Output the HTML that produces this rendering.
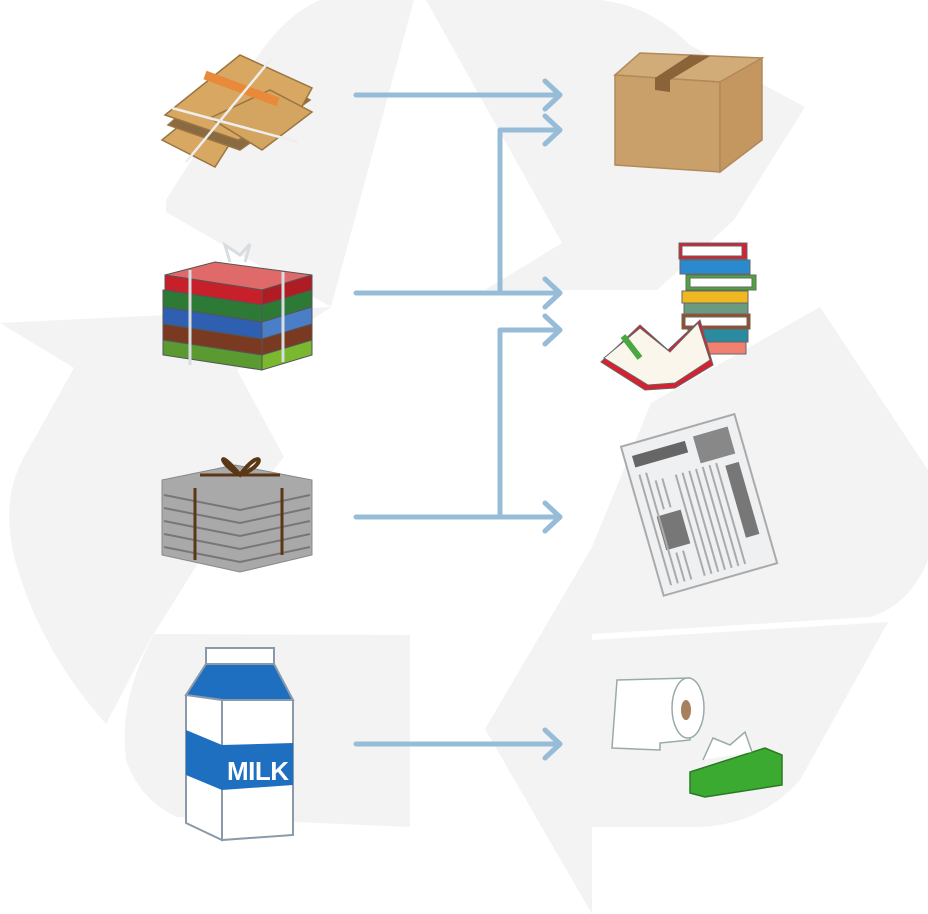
<!DOCTYPE html>
<html><head><meta charset="utf-8"><style>html,body{margin:0;padding:0;background:#fff}svg{display:block}</style></head>
<body>
<svg width="928" height="914" viewBox="0 0 928 914" xmlns="http://www.w3.org/2000/svg">
<g fill="#f3f3f3">
<path d="M166,212 L331,307 L414,0 L320,0 Q285,15 255,60 L166,200 Z"/>
<path d="M426,0 L600,0 Q650,5 690,45 L805,107 L734,220 L657,290 L485,290 L562,243 Z"/>
<path d="M0,323 L331,307 L237,370 L284,457 L200,560 L150,640 L106,724 Q40,650 15,560 Q0,500 24,457 L74,368 Z"/>
<path d="M154,634 L410,635 L410,827 L177,817 Q140,800 126,760 Q118,700 154,634 Z"/>
<path d="M820,307 L928,470 L928,560 Q910,605 870,617 L592,634 L592,547 L651,403 Z"/>
<path d="M592,547 L592,640 L888,622 L800,780 Q760,825 698,827 L592,827 L592,914 L485,729 Z"/>
</g>
<g stroke="#96bcd8" stroke-width="5" fill="none" stroke-linecap="round" stroke-linejoin="round">
<path d="M356 95H560M545 81L560 95L545 109"/>
<path d="M500 293V130H560M545 116L560 130L545 144"/>
<path d="M356 293H560M545 279L560 293L545 307"/>
<path d="M500 517V330H560M545 316L560 330L545 344"/>
<path d="M356 517H560M545 503L560 517L545 531"/>
<path d="M356 744H560M545 730L560 744L545 758"/>
</g>
<!-- cardboard bundle -->
<g stroke="#9a7540" stroke-width="1.5">
<polygon points="162,140 205,105 245,120 215,167" fill="#d8a863"/>
<polygon points="168,125 240,62 310,100 240,150" fill="#8a6a40"/>
<polygon points="165,115 240,55 312,88 300,110 238,140" fill="#d8a863"/>
<polygon points="210,118 270,90 312,112 262,150" fill="#d4a561"/>
<path d="M205,75 L278,102" stroke="#e88a3a" stroke-width="9"/>
<path d="M272,58 L186,162 M172,108 L298,142" stroke="#eee" stroke-width="2.5" fill="none"/>
</g>
<!-- magazines -->
<g stroke="#555" stroke-width="1">
<polygon points="165,275 215,262 312,275 262,290" fill="#e06a6a"/>
<polygon points="165,275 262,290 262,305 165,290" fill="#c8202a"/>
<polygon points="262,290 312,275 312,290 262,305" fill="#b01c24"/>
<polygon points="163,290 262,305 262,322 163,307" fill="#2d7a36"/><polygon points="262,305 312,290 312,307 262,322" fill="#2d7a36"/>
<polygon points="163,307 262,322 262,339 163,324" fill="#2f5fb0"/><polygon points="262,322 312,307 312,324 262,339" fill="#4a7fc8"/>
<polygon points="163,324 262,339 262,355 163,340" fill="#7a3a22"/><polygon points="262,339 312,324 312,340 262,355" fill="#7a3a22"/>
<polygon points="163,340 262,355 262,370 163,355" fill="#5a9a30"/><polygon points="262,355 312,340 312,355 262,370" fill="#7ab830"/>
<path d="M190,270 L190,365 M283,272 L283,362" stroke="#d8dde2" stroke-width="3" fill="none"/>
<path d="M230,262 L225,245 L240,255 L250,244 L245,262" stroke="#d8dde2" stroke-width="3" fill="none"/>
</g>
<!-- newspapers bundle -->
<g>
<polygon points="162,480 235,465 312,480 312,555 240,572 162,555" fill="#a9a9a9" stroke="#888"/>
<path d="M164,495 L240,510 L310,495 M164,508 L240,523 L310,508 M164,521 L240,536 L310,521 M164,534 L240,549 L310,534 M164,547 L240,562 L310,547" stroke="#777" stroke-width="2" fill="none"/>
<path d="M195,488 L195,560 M282,488 L282,555 M200,475 L280,475" stroke="#5a3815" stroke-width="3" fill="none"/>
<path d="M240,475 C215,445 220,465 240,475 C262,445 268,465 240,475" stroke="#5a3815" stroke-width="4" fill="none"/>
</g>
<!-- milk -->
<g stroke="#8a9aaa" stroke-width="2">
<rect x="206" y="648" width="68" height="16" fill="#fff"/>
<polygon points="186,695 206,664 274,664 293,700 222,700" fill="#1f6fc0"/>
<polygon points="186,695 222,700 222,840 186,823" fill="#fff"/>
<polygon points="222,700 293,700 293,835 222,840" fill="#fff"/>
<polygon points="186,730 222,745 222,790 186,775" fill="#1f6fc0" stroke="none"/>
<polygon points="222,745 293,743 293,785 222,790" fill="#1f6fc0" stroke="none"/>
<text x="227" y="780" font-family="Liberation Sans,sans-serif" font-weight="bold" font-size="26" fill="#fff" stroke="none" textLength="62">MILK</text>
</g>
<!-- box -->
<g stroke="#b08a5a" stroke-width="1.5">
<polygon points="615,75 640,53 762,58 720,82" fill="#d2ac78"/>
<polygon points="615,75 720,82 720,172 615,165" fill="#c9a06a"/>
<polygon points="720,82 762,58 762,140 720,172" fill="#c49660"/>
<polygon points="655,78 690,55 710,56 670,80 670,92 655,90" fill="#8a6438" stroke="none"/>
</g>
<!-- books -->
<g stroke="#666" stroke-width="1">
<rect x="679" y="243" width="68" height="16" fill="#d42030"/><rect x="682" y="246" width="60" height="10" fill="#fff"/>
<rect x="680" y="260" width="70" height="14" fill="#2a8ad0"/>
<rect x="686" y="275" width="70" height="15" fill="#4aa83a"/><rect x="690" y="278" width="62" height="9" fill="#fff"/>
<rect x="682" y="291" width="66" height="12" fill="#f0b820"/>
<rect x="684" y="303" width="64" height="11" fill="#6a9a80"/>
<rect x="682" y="314" width="68" height="15" fill="#a04a20"/><rect x="685" y="317" width="62" height="9" fill="#fff"/>
<rect x="688" y="329" width="60" height="13" fill="#2a8aa0"/>
<rect x="690" y="342" width="56" height="12" fill="#f08070"/>
<polygon points="601,362 640,325 668,350 700,320 713,365 675,388 645,390" fill="#d82030"/>
<polygon points="604,358 640,328 670,352 698,323 710,360 675,383 648,385" fill="#fbf6ec"/>
<path d="M623,336 L640,358" stroke="#4aa840" stroke-width="6"/>
</g>
<!-- newspaper -->
<g transform="rotate(-16 697 505)">
<rect x="640" y="428" width="118" height="155" fill="#eef0f2" stroke="#aaa" stroke-width="2"/>
<rect x="648" y="440" width="55" height="12" fill="#666"/>
<rect x="712" y="438" width="36" height="28" fill="#888"/>
<rect x="735" y="475" width="14" height="75" fill="#777"/>
<rect x="655" y="505" width="25" height="35" fill="#777"/>
<path d="M650,460 V575 M657,460 V575 M664,470 V500 M671,470 V500 M685,470 V575 M692,470 V575 M699,470 V575 M706,470 V575 M713,470 V575 M720,470 V575 M727,470 V575 M664,545 V575 M671,545 V575" stroke="#aaa" stroke-width="2"/>
</g>
<!-- toilet paper & tissue -->
<g stroke="#9aa" stroke-width="1.5">
<path d="M617,680 L690,678 L690,740 L660,743 L660,750 L612,748 Z" fill="#fff"/>
<ellipse cx="688" cy="708" rx="16" ry="30" fill="#fff"/>
<ellipse cx="686" cy="710" rx="5" ry="10" fill="#a88060" stroke="none"/>
<polygon points="690,772 765,748 782,755 782,785 705,797 690,793" fill="#3aaa30" stroke="#2a7a24"/>
<path d="M703,760 L713,738 L730,745 L745,732 L752,752" fill="#fff"/>
</g>
</svg>
</body></html>
